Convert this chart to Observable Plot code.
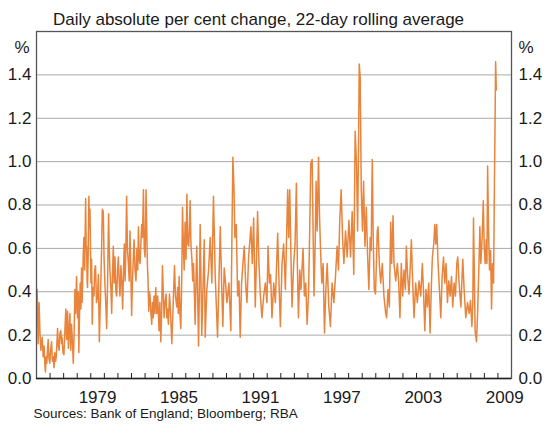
<!DOCTYPE html>
<html>
<head>
<meta charset="utf-8">
<script src="https://cdn.jsdelivr.net/npm/d3@7"></script>
<script src="https://cdn.jsdelivr.net/npm/@observablehq/plot@0.6"></script>
<style>
  html, body { margin: 0; padding: 0; background: #fff; }
</style>
</head>
<body>
<div id="chart"></div>
<script>
const subtitle = "Daily absolute per cent change, 22-day rolling average";
const source = "Sources: Bank of England; Bloomberg; RBA";
const unit = "%";
const yTicks = [0, 0.2, 0.4, 0.6, 0.8, 1.0, 1.2, 1.4];
const yearTicks = [1976,1977,1978,1979,1980,1981,1982,1983,1984,1985,1986,1987,1988,1989,1990,1991,1992,1993,1994,1995,1996,1997,1998,1999,2000,2001,2002,2003,2004,2005,2006,2007,2008,2009];
const yearLabels = [1979, 1985, 1991, 1997, 2003, 2009];

// [decimal year, per cent]
const vol1975 = [[1975.00,0.40],[1975.05,0.41],[1975.12,0.16],[1975.19,0.35],[1975.26,0.20],[1975.32,0.13],[1975.38,0.17],[1975.42,0.19],[1975.49,0.10],[1975.56,0.15],[1975.62,0.06],[1975.66,0.03],[1975.71,0.10],[1975.76,0.07],[1975.82,0.14],[1975.86,0.18],[1975.92,0.09],[1975.98,0.07],[1976.04,0.13],[1976.11,0.17],[1976.17,0.08],[1976.23,0.10],[1976.29,0.05],[1976.35,0.12],[1976.41,0.08],[1976.47,0.11],[1976.55,0.23],[1976.61,0.15],[1976.67,0.13],[1976.73,0.21],[1976.79,0.22],[1976.85,0.16],[1976.89,0.19],[1976.95,0.12],[1977.02,0.11],[1977.08,0.20],[1977.16,0.32],[1977.22,0.18],[1977.29,0.31],[1977.35,0.14],[1977.39,0.20],[1977.46,0.30],[1977.52,0.13],[1977.58,0.25],[1977.64,0.18],[1977.71,0.07],[1977.77,0.20],[1977.83,0.41],[1977.89,0.30],[1977.95,0.47],[1978.03,0.28],[1978.08,0.40],[1978.12,0.12],[1978.17,0.30],[1978.22,0.44],[1978.27,0.32],[1978.32,0.51],[1978.36,0.35],[1978.39,0.42],[1978.44,0.56],[1978.49,0.65],[1978.55,0.50],[1978.62,0.83],[1978.66,0.60],[1978.69,0.61],[1978.73,0.45],[1978.76,0.42],[1978.81,0.58],[1978.86,0.84],[1978.90,0.70],[1978.94,0.78],[1979.01,0.44],[1979.06,0.55],[1979.11,0.25],[1979.17,0.42],[1979.23,0.38],[1979.29,0.50],[1979.35,0.52],[1979.42,0.35],[1979.50,0.38],[1979.56,0.48],[1979.63,0.17],[1979.68,0.30],[1979.72,0.39],[1979.78,0.55],[1979.85,0.78],[1979.92,0.77],[1979.98,0.55]];
const vol1980 = [[1980.04,0.44],[1980.10,0.35],[1980.17,0.23],[1980.24,0.45],[1980.31,0.76],[1980.36,0.60],[1980.41,0.50],[1980.48,0.42],[1980.54,0.30],[1980.60,0.48],[1980.66,0.61],[1980.72,0.44],[1980.78,0.56],[1980.85,0.40],[1980.91,0.38],[1980.97,0.50],[1981.03,0.56],[1981.09,0.45],[1981.15,0.38],[1981.22,0.52],[1981.28,0.45],[1981.35,0.32],[1981.41,0.50],[1981.47,0.62],[1981.53,0.45],[1981.58,0.58],[1981.64,0.84],[1981.70,0.60],[1981.77,0.53],[1981.83,0.45],[1981.89,0.68],[1981.95,0.50],[1982.01,0.29],[1982.07,0.45],[1982.13,0.55],[1982.19,0.64],[1982.26,0.50],[1982.33,0.45],[1982.40,0.60],[1982.46,0.50],[1982.51,0.70],[1982.57,0.55],[1982.63,0.53],[1982.69,0.62],[1982.75,0.71],[1982.81,0.65],[1982.88,0.87],[1982.94,0.60],[1983.00,0.56],[1983.04,0.70],[1983.07,0.87],[1983.12,0.70],[1983.17,0.53],[1983.22,0.45],[1983.27,0.31],[1983.32,0.40],[1983.37,0.38],[1983.43,0.30],[1983.49,0.25],[1983.55,0.35],[1983.60,0.28],[1983.66,0.38],[1983.72,0.30],[1983.79,0.42],[1983.86,0.30],[1983.93,0.38],[1984.03,0.22],[1984.09,0.35],[1984.16,0.17],[1984.22,0.30],[1984.28,0.52],[1984.34,0.40],[1984.40,0.28],[1984.47,0.35],[1984.55,0.39],[1984.60,0.28],[1984.65,0.32],[1984.72,0.25],[1984.80,0.39],[1984.88,0.30],[1984.97,0.16]];
const vol1985 = [[1985.05,0.30],[1985.11,0.42],[1985.17,0.52],[1985.24,0.38],[1985.34,0.33],[1985.40,0.42],[1985.45,0.30],[1985.51,0.47],[1985.57,0.30],[1985.63,0.23],[1985.70,0.45],[1985.76,0.79],[1985.82,0.62],[1985.88,0.50],[1985.95,0.72],[1986.02,0.55],[1986.08,0.85],[1986.15,0.62],[1986.22,0.61],[1986.27,0.70],[1986.32,0.82],[1986.38,0.62],[1986.45,0.55],[1986.51,0.45],[1986.57,0.53],[1986.63,0.40],[1986.69,0.25],[1986.75,0.45],[1986.81,0.61],[1986.87,0.40],[1986.94,0.15],[1987.00,0.40],[1987.06,0.71],[1987.18,0.20],[1987.36,0.64],[1987.43,0.19],[1987.55,0.41],[1987.68,0.50],[1987.80,0.65],[1987.92,0.44],[1988.04,0.84],[1988.17,0.47],[1988.34,0.19],[1988.44,0.44],[1988.54,0.70],[1988.64,0.44],[1988.73,0.24],[1988.83,0.51],[1988.93,0.44],[1989.03,0.35],[1989.18,0.44],[1989.32,0.22],[1989.47,1.02],[1989.55,0.88],[1989.62,0.65],[1989.72,0.71],[1989.82,0.38],[1989.92,0.45]];
const vol1990 = [[1990.01,0.19],[1990.11,0.44],[1990.21,0.53],[1990.31,0.61],[1990.41,0.44],[1990.51,0.35],[1990.63,0.56],[1990.80,0.70],[1990.90,0.53],[1991.00,0.74],[1991.12,0.33],[1991.20,0.53],[1991.29,0.77],[1991.39,0.53],[1991.49,0.39],[1991.61,0.28],[1991.74,0.38],[1991.86,0.44],[1991.98,0.35],[1992.06,0.61],[1992.16,0.44],[1992.25,0.48],[1992.35,0.28],[1992.48,0.44],[1992.60,0.35],[1992.77,0.67],[1992.87,0.44],[1992.97,0.24],[1993.09,0.53],[1993.21,0.62],[1993.34,0.41],[1993.41,0.61],[1993.51,0.87],[1993.58,0.65],[1993.66,0.87],[1993.76,0.53],[1993.83,0.33],[1993.95,0.53],[1994.05,0.62],[1994.15,0.90],[1994.22,0.53],[1994.30,0.28],[1994.40,0.50],[1994.49,0.41],[1994.64,0.60],[1994.74,0.38],[1994.84,0.44],[1994.94,0.25]];
const vol1995 = [[1995.04,0.38],[1995.13,0.68],[1995.21,0.99],[1995.31,1.01],[1995.38,0.68],[1995.45,0.38],[1995.53,0.61],[1995.60,0.91],[1995.68,0.68],[1995.78,1.02],[1995.85,0.76],[1995.92,0.61],[1996.02,0.44],[1996.12,0.53],[1996.22,0.21],[1996.32,0.41],[1996.42,0.53],[1996.54,0.33],[1996.66,0.24],[1996.78,0.44],[1996.91,0.35],[1997.03,0.47],[1997.15,0.61],[1997.25,0.50],[1997.35,0.74],[1997.45,0.87],[1997.55,0.65],[1997.65,0.53],[1997.77,0.68],[1997.89,0.56],[1998.02,0.73],[1998.14,0.56],[1998.26,0.77],[1998.38,0.48],[1998.48,1.14],[1998.58,0.99],[1998.66,0.68],[1998.73,1.07],[1998.78,1.45],[1998.85,1.39],[1998.93,0.87],[1999.02,0.68],[1999.10,0.91],[1999.20,0.61],[1999.30,0.79],[1999.39,0.58],[1999.49,0.41],[1999.59,0.65],[1999.66,0.59],[1999.74,1.01],[1999.81,0.65],[1999.89,0.41],[1999.98,0.39]];
const vol2000 = [[2000.11,0.68],[2000.16,0.70],[2000.26,0.53],[2000.36,0.44],[2000.48,0.53],[2000.60,0.38],[2000.73,0.30],[2000.80,0.28],[2000.90,0.41],[2001.00,0.33],[2001.10,0.72],[2001.17,0.53],[2001.27,0.75],[2001.34,0.53],[2001.47,0.45],[2001.59,0.53],[2001.69,0.44],[2001.78,0.28],[2001.88,0.53],[2001.98,0.38],[2002.08,0.50],[2002.18,0.41],[2002.25,0.61],[2002.35,0.47],[2002.45,0.39],[2002.55,0.53],[2002.62,0.64],[2002.72,0.44],[2002.82,0.28],[2002.94,0.44],[2003.06,0.35],[2003.19,0.45],[2003.31,0.38],[2003.43,0.53],[2003.53,0.38],[2003.61,0.22],[2003.70,0.41],[2003.80,0.33],[2003.90,0.44],[2004.00,0.21],[2004.10,0.44],[2004.17,0.56],[2004.27,0.62],[2004.35,0.71],[2004.42,0.62],[2004.49,0.71],[2004.59,0.53],[2004.69,0.41],[2004.79,0.28],[2004.89,0.47],[2004.99,0.56]];
const vol2005 = [[2005.08,0.44],[2005.18,0.53],[2005.28,0.35],[2005.38,0.45],[2005.48,0.38],[2005.58,0.47],[2005.67,0.33],[2005.77,0.44],[2005.87,0.38],[2005.97,0.53],[2006.04,0.56],[2006.14,0.44],[2006.27,0.33],[2006.41,0.55],[2006.51,0.41],[2006.63,0.28],[2006.76,0.35],[2006.88,0.30],[2006.98,0.36],[2007.08,0.24],[2007.15,0.35],[2007.20,0.74],[2007.27,0.44],[2007.32,0.22],[2007.42,0.17],[2007.50,0.30],[2007.59,0.50],[2007.67,0.70],[2007.74,0.53],[2007.84,0.65],[2007.92,0.82],[2007.99,0.61],[2008.06,0.53],[2008.14,0.64],[2008.19,0.53],[2008.24,0.98],[2008.31,0.68],[2008.38,0.50],[2008.46,0.59],[2008.53,0.32],[2008.60,0.53],[2008.68,0.44],[2008.73,0.82],[2008.78,1.13],[2008.83,1.46],[2008.88,1.33]];

const series = [...vol1975, ...vol1980, ...vol1985, ...vol1990, ...vol1995, ...vol2000, ...vol2005]
  .map(([t, v]) => ({t, v}));

const font = "'Liberation Sans', Arial, Helvetica, sans-serif";

const chart = Plot.plot({
  width: 546,
  height: 427,
  marginLeft: 36,
  marginRight: 35,
  marginTop: 31,
  marginBottom: 49,
  style: {fontFamily: font, fontSize: "17px", color: "#1a1a1a", background: "#fff", overflow: "visible"},
  x: {domain: [1975, 2010], label: null},
  y: {domain: [0, 1.6], label: null},
  marks: [
    Plot.ruleY(yTicks.filter(d => d > 0), {stroke: "#a9a9a9", strokeWidth: 1}),
    Plot.line(series, {x: "t", y: "v", stroke: "#e8843c", strokeWidth: 1.5}),
    Plot.frame({stroke: "#555", strokeWidth: 1.3}),
    Plot.ruleY([0], {stroke: "#222", strokeWidth: 1.5}),
    Plot.axisX(yearTicks, {anchor: "bottom", tickSize: 5, dy: -5, tickFormat: () => "", stroke: "#222", label: null}),
    Plot.axisX(yearLabels.map(d => d + 0.5), {anchor: "bottom", tickSize: 0, tickPadding: 12, tickFormat: d => String(Math.floor(d)), fontSize: 17, label: null}),
    Plot.axisY(yTicks, {anchor: "left", tickSize: 0, tickPadding: 5, tickFormat: d => d.toFixed(1), fontSize: 17, label: null}),
    Plot.axisY(yTicks, {anchor: "right", tickSize: 0, tickPadding: 7, tickFormat: d => d.toFixed(1), fontSize: 17, label: null}),
    Plot.text([unit], {text: d => d, frameAnchor: "top-left", textAnchor: "end", dx: -7, dy: 9, fontSize: 17}),
    Plot.text([unit], {text: d => d, frameAnchor: "top-right", textAnchor: "start", dx: 7, dy: 9, fontSize: 17}),
    Plot.text([subtitle], {text: d => d, frameAnchor: "top-left", textAnchor: "middle", dx: 222, dy: -19, fontSize: 17}),
    Plot.text([source], {text: d => d, frameAnchor: "bottom-left", textAnchor: "start", dx: -3, dy: 39, fontSize: 13.5})
  ]
});

document.getElementById("chart").appendChild(chart);
</script>
</body>
</html>
